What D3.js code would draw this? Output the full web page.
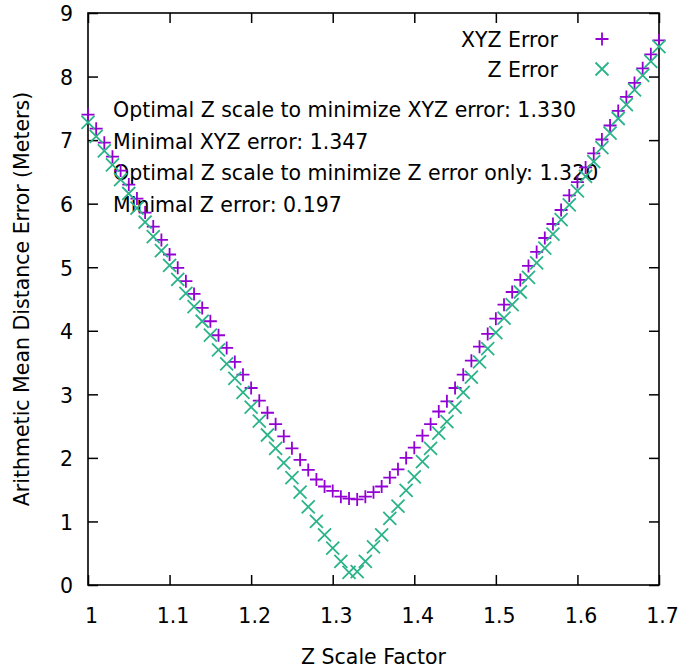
<!DOCTYPE html>
<html>
<head>
<meta charset="utf-8">
<script src="https://cdn.jsdelivr.net/npm/d3@7"></script>
<style>
  body { margin: 0; background: #fff; }
  svg text { font-family: "DejaVu Sans", sans-serif; fill: #000; }
</style>
</head>
<body>
<div id="chart"></div>
<script>
// z scale factors (x) and the two error series
var scaleFactors = [1.00,1.01,1.02,1.03,1.04,1.05,1.06,1.07,1.08,1.09,
  1.10,1.11,1.12,1.13,1.14,1.15,1.16,1.17,1.18,1.19,
  1.20,1.21,1.22,1.23,1.24,1.25,1.26,1.27,1.28,1.29,
  1.30,1.31,1.32,1.33,1.34,1.35,1.36,1.37,1.38,1.39,
  1.40,1.41,1.42,1.43,1.44,1.45,1.46,1.47,1.48,1.49,
  1.50,1.51,1.52,1.53,1.54,1.55,1.56,1.57,1.58,1.59,
  1.60,1.61,1.62,1.63,1.64,1.65,1.66,1.67,1.68,1.69,1.70];

var xyzError = [7.40,7.18,6.96,6.74,6.52,6.30,6.08,5.86,5.64,5.43,
  5.20,4.99,4.78,4.58,4.36,4.15,3.93,3.73,3.51,3.31,
  3.10,2.90,2.71,2.53,2.34,2.15,1.97,1.81,1.66,1.55,
  1.48,1.39,1.36,1.347,1.39,1.46,1.55,1.69,1.82,2.00,
  2.16,2.35,2.53,2.73,2.89,3.10,3.31,3.53,3.75,3.95,
  4.19,4.41,4.61,4.80,5.02,5.24,5.46,5.68,5.90,6.13,
  6.34,6.57,6.79,7.01,7.23,7.46,7.68,7.90,8.13,8.35,8.57];

var zError = [7.28,7.06,6.83,6.61,6.38,6.16,5.93,5.71,5.48,5.26,
  5.03,4.81,4.59,4.38,4.15,3.93,3.70,3.48,3.25,3.03,
  2.80,2.58,2.36,2.15,1.92,1.69,1.46,1.23,1.00,0.79,
  0.58,0.37,0.197,0.21,0.37,0.60,0.79,1.05,1.24,1.49,
  1.70,1.94,2.15,2.39,2.57,2.80,3.03,3.27,3.51,3.72,
  3.97,4.20,4.41,4.61,4.84,5.07,5.30,5.52,5.75,5.98,
  6.20,6.43,6.66,6.88,7.11,7.34,7.56,7.79,8.02,8.24,8.47];

var xTicks = [1, 1.1, 1.2, 1.3, 1.4, 1.5, 1.6, 1.7];
var xTickLabels = ["1", "1.1", "1.2", "1.3", "1.4", "1.5", "1.6", "1.7"];
var yTicks = [0, 1, 2, 3, 4, 5, 6, 7, 8, 9];

var seriesNames = ["XYZ Error", "Z Error"];
var seriesColors = ["#9400d3", "#2bb38a"];

var notes = [
  "Optimal Z scale to minimize XYZ error: 1.330",
  "Minimal XYZ error: 1.347",
  "Optimal Z scale to minimize Z error only: 1.320",
  "Minimal Z error: 0.197"
];

var svgWidth = 681, svgHeight = 668;
var plotLeft = 88, plotRight = 659, plotTop = 13, plotBottom = 585;

var svg = d3.select("#chart").append("svg")
  .attr("width", svgWidth)
  .attr("height", svgHeight);

var x = d3.scaleLinear().domain([1, 1.7]).range([plotLeft, plotRight]);
var y = d3.scaleLinear().domain([0, 9]).range([plotBottom, plotTop]);

// axes with inward ticks, mirrored on top and right
var fontSize = 20.5;
var axisBottom = svg.append("g")
  .attr("transform", "translate(0," + plotBottom + ")")
  .call(d3.axisBottom(x).tickValues(xTicks).tickSize(-10).tickSizeOuter(0)
    .tickFormat(function(d, i){ return xTickLabels[i]; }));
axisBottom.selectAll("text").attr("dy", null).attr("y", 38).attr("dx", 3)
  .style("font-size", fontSize + "px");

svg.append("g")
  .attr("transform", "translate(0," + plotTop + ")")
  .call(d3.axisTop(x).tickValues(xTicks).tickSize(-10).tickSizeOuter(0).tickFormat(""));

var axisLeft = svg.append("g")
  .attr("transform", "translate(" + plotLeft + ",0)")
  .call(d3.axisLeft(y).tickValues(yTicks).tickSize(-10).tickSizeOuter(0).tickFormat(d3.format("d")));
axisLeft.selectAll("text").attr("x", -15).attr("dy", "0.38em")
  .style("font-size", fontSize + "px");

svg.append("g")
  .attr("transform", "translate(" + plotRight + ",0)")
  .call(d3.axisRight(y).tickValues(yTicks).tickSize(-10).tickSizeOuter(0).tickFormat(""));

svg.selectAll(".domain").remove();
svg.selectAll(".tick line").attr("stroke", "#000").attr("stroke-width", 1.5);

svg.append("rect")
  .attr("x", plotLeft).attr("y", plotTop)
  .attr("width", plotRight - plotLeft).attr("height", plotBottom - plotTop)
  .attr("fill", "none").attr("stroke", "#000").attr("stroke-width", 1.6);

// axis titles
svg.append("text")
  .attr("x", (plotLeft + plotRight) / 2)
  .attr("y", 664)
  .attr("text-anchor", "middle")
  .style("font-size", fontSize + "px")
  .text("Z Scale Factor");

svg.append("text")
  .attr("transform", "translate(29," + (plotTop + plotBottom) / 2 + ") rotate(-90)")
  .attr("text-anchor", "middle")
  .style("font-size", fontSize + "px")
  .text("Arithmetic Mean Distance Error (Meters)");

// annotation labels
svg.selectAll(".note")
  .data(notes)
  .enter()
  .append("text")
  .attr("class", "note")
  .attr("x", 113)
  .attr("y", function(d, i){ return 117 + i * 31.5; })
  .style("font-size", fontSize + "px")
  .text(function(d){ return d; });

// marker shapes
var m = 6.5;
function plusPath(px, py){
  return "M" + (px - m) + "," + py + "H" + (px + m) + "M" + px + "," + (py - m) + "V" + (py + m);
}
function crossPath(px, py){
  return "M" + (px - m) + "," + (py - m) + "L" + (px + m) + "," + (py + m) +
         "M" + (px - m) + "," + (py + m) + "L" + (px + m) + "," + (py - m);
}

var xyzPoints = scaleFactors.map(function(s, i){ return [s, xyzError[i]]; });
var zPoints = scaleFactors.map(function(s, i){ return [s, zError[i]]; });

svg.append("g").selectAll("path")
  .data(xyzPoints)
  .enter()
  .append("path")
  .attr("d", function(d){ return plusPath(x(d[0]), y(d[1])); })
  .attr("stroke", seriesColors[0])
  .attr("stroke-width", 1.8)
  .attr("fill", "none");

svg.append("g").selectAll("path")
  .data(zPoints)
  .enter()
  .append("path")
  .attr("d", function(d){ return crossPath(x(d[0]), y(d[1])); })
  .attr("stroke", seriesColors[1])
  .attr("stroke-width", 1.8)
  .attr("fill", "none");

// legend
var legend = svg.append("g").selectAll("g")
  .data(seriesNames)
  .enter()
  .append("g")
  .attr("transform", function(d, i){ return "translate(0," + (40 + i * 30) + ")"; });

legend.append("text")
  .attr("x", 558)
  .attr("y", 7)
  .attr("text-anchor", "end")
  .style("font-size", fontSize + "px")
  .text(function(d){ return d; });

legend.append("path")
  .attr("d", function(d, i){ return i === 0 ? plusPath(602, -1) : crossPath(602, -1); })
  .attr("stroke", function(d, i){ return seriesColors[i]; })
  .attr("stroke-width", 1.8)
  .attr("fill", "none");
</script>
</body>
</html>
